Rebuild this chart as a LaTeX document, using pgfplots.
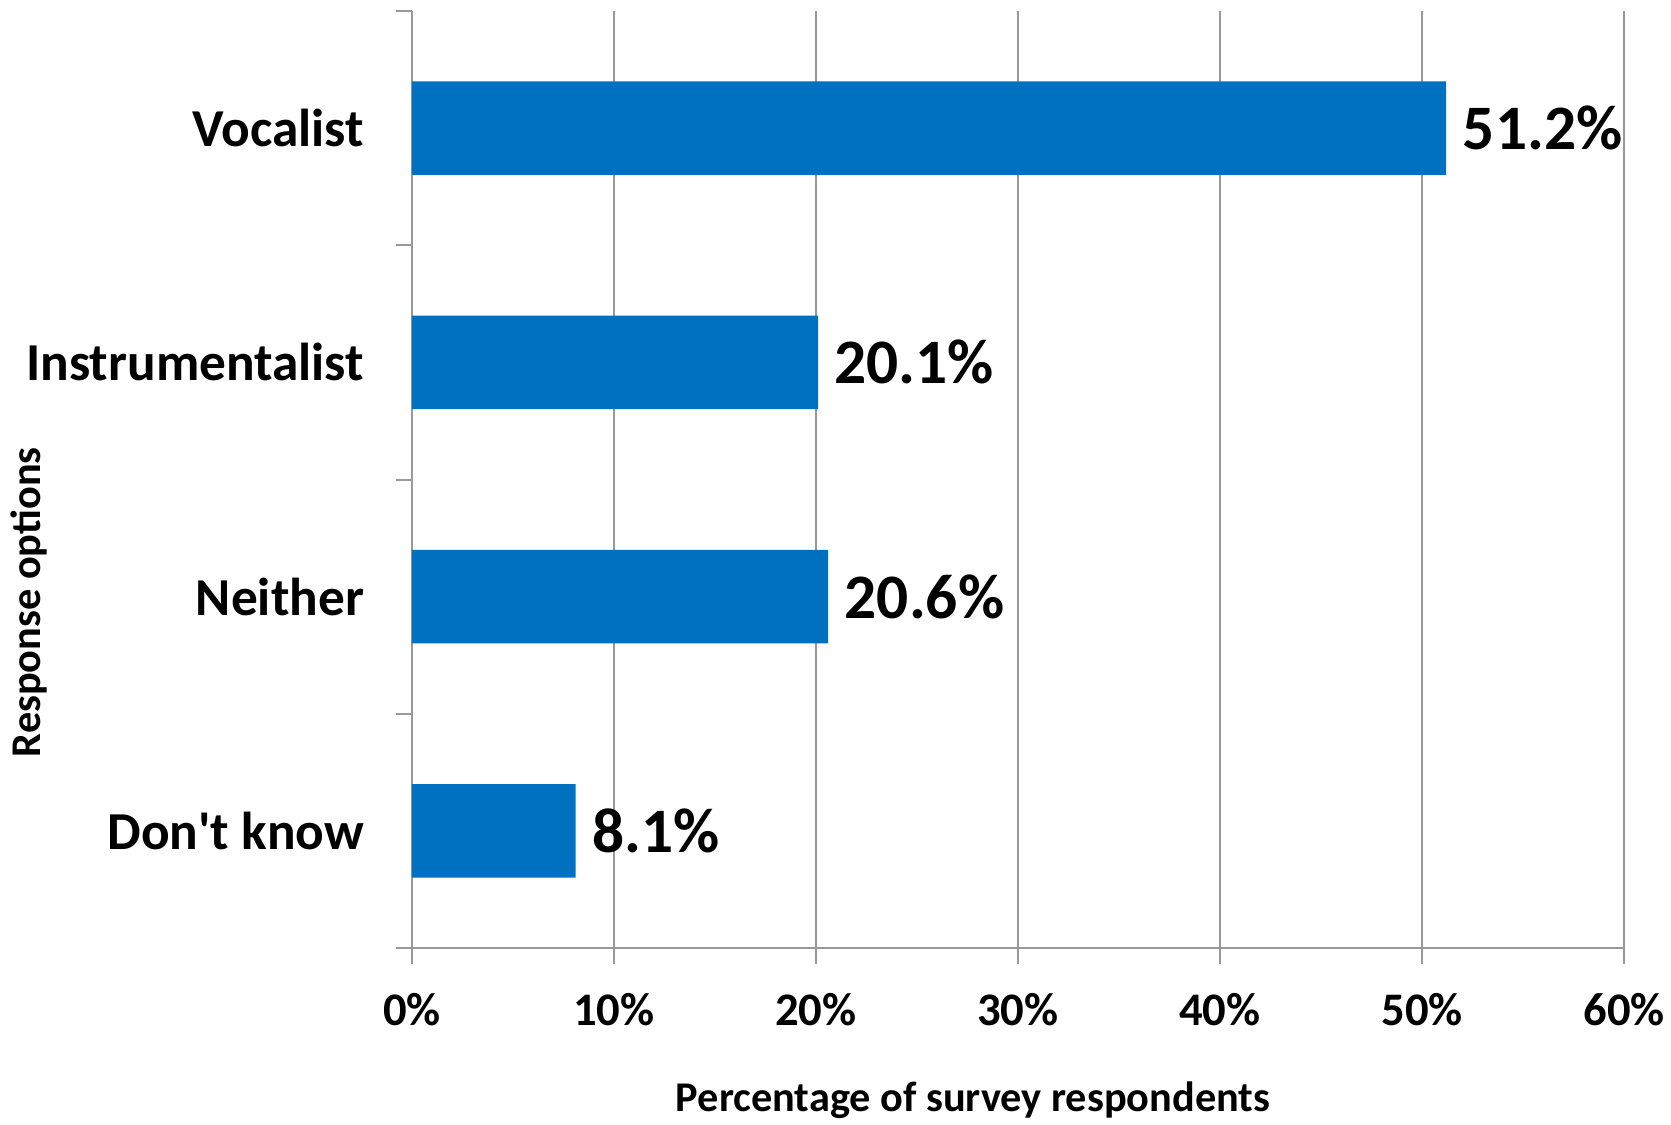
\documentclass[border=0pt]{standalone}
\usepackage{pgfplots}
\pgfplotsset{compat=1.18}
\usepackage{fontspec}
\setmainfont{Carlito}
\definecolor{barblue}{HTML}{0070C0}
\definecolor{gridgray}{HTML}{999999}
\begin{document}
\begin{tikzpicture}
\begin{axis}[
  scale only axis,
  width=363.6pt, height=281.1pt,
  xbar,
  bar width=0.4,
  xmin=0, xmax=60,
  ymin=0.5, ymax=4.5,
  xtick={0,10,...,60},
  xticklabel={\pgfmathprintnumber{\tick}\%},
  /pgf/number format/assume math mode=true,
  xmajorgrids,
  grid style={gridgray, line width=0.6pt},
  axis x line*=bottom,
  axis y line*=left,
  axis line style={gridgray, line width=0.6pt, -},
  tick align=outside,
  major tick length=4.8pt,
  tick style={gridgray, line width=0.6pt},
  ytick={0.5,1.5,...,4.5},
  yticklabels={},
  extra y ticks={1,2,3,4},
  extra y tick labels={Don\textquotesingle t know,Neither,Instrumentalist,Vocalist},
  extra y tick style={major tick length=0pt, yticklabel style={font=\bfseries\fontsize{16}{19}\selectfont, anchor=east, inner sep=0pt, xshift=-14.2pt}},
  xticklabel style={font=\bfseries\fontsize{14}{17}\selectfont, anchor=north, inner sep=0pt, yshift=-8.6pt},
  xlabel={Percentage of survey respondents},
  ylabel={Response options},
  xlabel style={font=\bfseries\fontsize{12.7}{15}\selectfont, at={(axis description cs:0.463,-0.162)}, anchor=center},
  ylabel style={font=\bfseries\fontsize{12.7}{15}\selectfont, at={(axis description cs:-0.316,0.369)}, anchor=center},
  point meta=x,
  nodes near coords={\pgfmathprintnumber[fixed,fixed zerofill,precision=1]{\pgfplotspointmeta}\%},
  nodes near coords style={font=\bfseries\fontsize{19}{22}\selectfont, anchor=west, inner sep=0pt, xshift=4.8pt, text=black},
]
\addplot[fill=barblue, draw=none] coordinates {
  (8.1,1)
  (20.6,2)
  (20.1,3)
  (51.2,4)
};
\end{axis}
\pgfresetboundingbox
\path[use as bounding box] ([shift={(-123.6pt,-52.8pt)}]current axis.south west) rectangle ([shift={(14.1pt,3.3pt)}]current axis.north east);
\end{tikzpicture}
\end{document}
